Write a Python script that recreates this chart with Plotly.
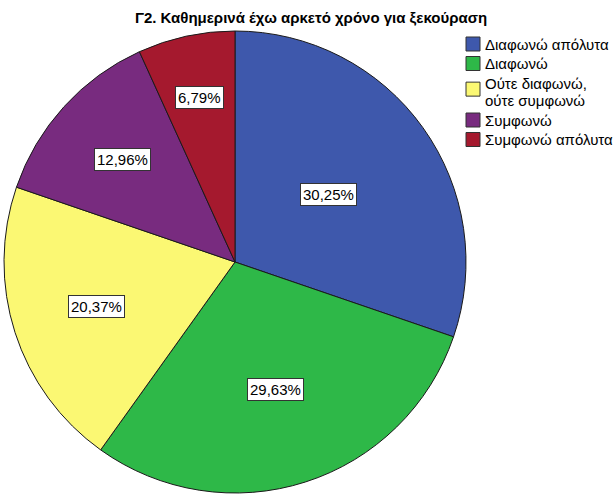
import math
import plotly.graph_objects as go

categories = ["Διαφωνώ απόλυτα", "Διαφωνώ", "Ούτε διαφωνώ,<br>ούτε συμφωνώ", "Συμφωνώ", "Συμφωνώ απόλυτα"]
values = [30.25, 29.63, 20.37, 12.96, 6.79]
colors = ["#3E58AC", "#2EB848", "#FBF873", "#782B7F", "#A5192E"]
label_radius = [0.50, 0.58, 0.63, 0.66, 0.73]  # fraction of pie radius for label boxes

W, H = 616, 496
cx_px, cy_px, r_px = 235, 262, 231
FONT = "Liberation Sans, Arial"

def px(x):
    return x / W

def py(y):
    return 1 - y / H

fig = go.Figure(go.Pie(
    labels=categories, values=values, sort=False, direction="clockwise",
    rotation=0, textinfo="none", hoverinfo="label+percent",
    marker=dict(colors=colors, line=dict(color="#1a1a1a", width=1)),
    domain=dict(x=[px(cx_px - r_px), px(cx_px + r_px)],
                y=[py(cy_px + r_px), py(cy_px - r_px)]),
    showlegend=False,
))

# percentage labels in boxes
total = sum(values)
cum = 0.0
for v, f in zip(values, label_radius):
    mid = (cum + v / 2) / total * 2 * math.pi
    cum += v
    fig.add_annotation(x=px(cx_px + f * r_px * math.sin(mid)),
                       y=py(cy_px - f * r_px * math.cos(mid)),
                       xref="paper", yref="paper", xanchor="center", yanchor="middle",
                       showarrow=False,
                       text=f"{v:.2f}".replace(".", ",") + "%",
                       font=dict(family=FONT, size=15, color="black"),
                       bgcolor="white", bordercolor="#333333", borderwidth=1, borderpad=2)

# legend (swatch + text) built from categories/colors
sw_x0, sw_size, text_x = 466, 14, 483
cursor, row_step, line_step = 44, 19.5, 17.5
for cat, col in zip(categories, colors):
    lines = cat.split("<br>")
    sc = cursor + (len(lines) - 1) * line_step * 0.35
    fig.add_shape(type="rect", xref="paper", yref="paper",
                  x0=px(sw_x0), x1=px(sw_x0 + sw_size),
                  y0=py(sc + sw_size / 2), y1=py(sc - sw_size / 2),
                  fillcolor=col, line=dict(color="#333333", width=1))
    for j, line in enumerate(lines):
        fig.add_annotation(x=px(text_x), y=py(cursor + j * line_step),
                           xref="paper", yref="paper", xanchor="left", yanchor="middle",
                           showarrow=False, text=line,
                           font=dict(family=FONT, size=15, color="black"))
    cursor += row_step + (len(lines) - 1) * line_step

fig.update_layout(
    width=W, height=H,
    margin=dict(l=0, r=0, t=0, b=0, autoexpand=False),
    paper_bgcolor="white", plot_bgcolor="white",
    title=dict(text="<b>Γ2. Καθημερινά έχω αρκετό χρόνο για ξεκούραση</b>",
               x=px(311), xanchor="center", y=py(18), yanchor="middle",
               font=dict(family=FONT, size=15, color="black")),
    showlegend=False,
)

fig.write_html("out.html", config={"displayModeBar": False},
               post_script="document.body.style.margin='0';document.body.style.overflow='hidden';")
